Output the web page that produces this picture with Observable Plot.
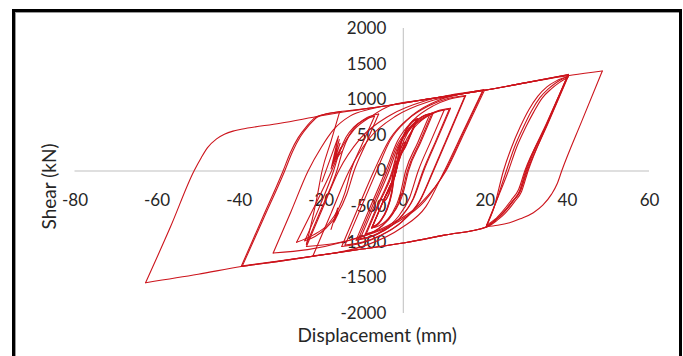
<!DOCTYPE html>
<html>
<head>
<meta charset="utf-8">
<script src="https://cdn.jsdelivr.net/npm/d3@7"></script>
<script src="https://cdn.jsdelivr.net/npm/@observablehq/plot@0.6"></script>
<style>
  html, body { margin: 0; padding: 0; background: #fff; }
  #wrap { position: relative; width: 683px; height: 356px; overflow: hidden; }
  #frame { position: absolute; left: 12px; top: 9px; width: 670px; height: 400px;
           box-sizing: border-box; border: 3px solid #000; pointer-events: none;
           box-shadow: inset 1px 1px 0 #9a9a9a; }
</style>
</head>
<body>
<div id="wrap"><div id="frame"></div></div>
<script>
// ---- axis ticks ----
const xTicks = [-80, -60, -40, -20, 0, 20, 40, 60];
const xTickLabels = ["-80", "-60", "-40", "-20", "0", "20", "40", "60"];
const yTicks = [2000, 1500, 1000, 500, 0, -500, -1000, -1500, -2000];
const yTickLabels = ["2000", "1500", "1000", "500", "0", "-500", "-1000", "-1500", "-2000"];
const xTitle = "Displacement (mm)";
const yTitle = "Shear (kN)";

// ---- hysteresis branches: [displacement (mm), shear (kN)] ----
const smallCycles = [
  [[-2,0],[-0.7,200],[0.5,400]],
  [[0.5,400],[-1.0,200],[-2.46,0],[-2.8,-170],[-3.3,-290],[-3.9,-365],[-4.3,-405],[-4.8,-420]],
  [[-4.8,-420],[-3.25,-210],[-1.69,0],[-1.35,165],[-0.9,280],[-0.3,355],[0.1,395],[0.6,410]],
  [[0.6,410],[-0.92,205],[-2.44,0],[-2.81,-172],[-3.3,-292],[-3.92,-374],[-4.41,-413],[-4.9,-430]],
  [[-4.9,-430],[-3.3,-215],[-1.71,0],[-0.97,288],[0,490],[1.24,626],[2.22,691],[3.2,720]],
  [[3.2,720],[0.53,360],[-2.13,0],[-2.94,-312],[-4,-530],[-5.35,-679],[-6.43,-749],[-7.5,-780]],
  [[-7.5,-780],[-4.6,-390],[-1.72,0],[-0.95,292],[0.07,496],[1.35,635],[2.38,701],[3.4,730]],
  [[3.4,730],[0.7,365],[-2.01,0],[-2.85,-316],[-3.97,-537],[-5.36,-687],[-6.48,-758],[-7.6,-790]],
  [[-7.6,-790],[-4.67,-395],[-1.75,0],[-0.96,294],[0.09,500],[1.4,639],[2.45,706],[3.5,735]],
  [[3.5,735],[0.78,368],[-1.94,0],[-2.8,-320],[-3.96,-544],[-5.4,-696],[-6.55,-768],[-7.7,-800]]
];
const cycles8 = [
  [[-7.7,-800],[-4.74,-400],[-1.77,0],[-0.53,320],[1.12,544],[3.19,696],[4.84,768],[6.5,800]],
  [[6.5,800],[3.54,400],[0.57,0],[-0.87,-352],[-2.78,-598],[-5.17,-766],[-7.09,-845],[-9,-880]],
  [[-9,-880],[-5.74,-440],[-2.48,0],[-1.06,324],[0.84,551],[3.21,705],[5.1,778],[7,810]],
  [[7,810],[4,405],[1,0],[-0.55,-356],[-2.6,-605],[-5.18,-774],[-7.24,-854],[-9.3,-890]],
  [[-9.3,-890],[-6,-445],[-2.71,0],[-1.21,326],[0.79,554],[3.29,709],[5.29,782],[7.3,815]],
  [[7.3,815],[4.28,408],[1.26,0],[-0.08,-320],[-1.88,-544],[-4.12,-696],[-5.91,-768],[-7.7,-800]]
];
const mediumCycles = [
  [[-7.7,-800],[-4.74,-400],[-1.77,0],[0,344],[2.35,585],[5.3,748],[7.65,826],[10,860]],
  [[10,860],[6.8,430],[3.63,0],[1.5,-380],[-1.3,-646],[-4.85,-827],[-7.67,-912],[-10.5,-950]],
  [[-10.5,-950],[-6.98,-475],[-3.46,0],[-1.26,346],[1.67,589],[5.34,753],[8.27,831],[11.2,866]],
  [[11.2,866],[8,433],[4.79,0],[2.42,-384],[-0.74,-653],[-4.68,-835],[-7.84,-922],[-11,-960]],
  [[-11,-960],[-7.44,-480],[-3.89,0],[-1.58,352],[1.5,598],[5.34,766],[8.42,845],[11.5,880]],
  [[11.5,880],[8.24,440],[4.98,0],[2.51,-388],[-0.79,-660],[-4.91,-844],[-8.2,-931],[-11.5,-970]],
  [[-11.5,-970],[-7.9,-485],[-4.31,0],[-1.41,420],[2.45,714],[7.28,914],[11.14,1008],[15,1050]],
  [[15,1050],[11.1,525],[7.22,0],[4.0,-416],[-0.28,-707],[-5.63,-905],[-9.9,-998],[-14.2,-1040]],
  [[-14.2,-1040],[-10.35,-520],[-6.5,0],[-3.25,424],[1.1,721],[6.52,922],[10.86,1018],[15.2,1060]],
  [[15.2,1060],[11.3,530],[7.35,0],[4,-424],[-0.47,-721],[-6.06,-922],[-10.5,-1018],[-15,-1060]]
];
const cycles20 = [
  [[-15,-1060],[-11.1,-530],[-7.15,0],[-3.17,459],[2.14,780],[8.78,998],[14.1,1080],[19.4,1135]],
  [[19.4,1135],[14.7,568],[10,0],[5.5,-500],[-0.5,-800],[-8.5,-1030],[-15.2,-1135],[-22,-1190]],
  [[-22,-1190],[-17.6,-595],[-13.2,0],[-8.3,456],[-1.7,775],[6.5,980],[13,1070],[19.6,1140]],
  [[19.6,1140],[14.9,570],[10.2,0],[5.2,-424],[-1.5,-720],[-10,-922],[-16.8,-1018],[-23.6,-1060]],
  [[-23.6,-1060],[-19.7,-530],[-15.75,0],[-10.4,460],[-3.3,780],[5.6,990],[12.7,1080],[19.8,1133]],
  [[19.8,1133],[15.1,566],[10.4,0],[4.1,-460],[-4.3,-782],[-14.9,-1000],[-23.3,-1104],[-31.7,-1150]]
];
const cycles40 = [
  [[-31.7,-1150],[-27.4,-575],[-23.2,0],[-20,330],[-17,580],[-13,770],[-8,870],[0,955],[10,1045],[19.8,1133],[30,1240],[40.2,1350]],
  [[40.2,1357],[35.1,680],[30,0],[28.5,-280],[26.7,-421],[24.5,-580],[22.5,-690],[20.2,-785],[10,-900],[0.4,-1007],[-10,-1095],[-20,-1180],[-30,-1265],[-39.5,-1340]],
  [[-39.5,-1340],[-34.4,-670],[-29.3,0],[-27.5,260],[-25.6,468],[-23.5,630],[-21.5,749],[-18.5,805],[-15.8,830],[-12,855],[-2.8,927],[4.7,997],[19.8,1133],[30,1240],[40.2,1355]],
  [[40.2,1355],[35.3,690],[30.4,0],[28.8,-290],[27,-440],[24.8,-595],[22.7,-700],[20.4,-785],[10,-900],[0.4,-1007],[-10,-1095],[-20,-1180],[-30,-1260],[-39.2,-1330]],
  [[-39.2,-1330],[-34,-660],[-28.9,0],[-27,270],[-25.1,480],[-23,640],[-21,755],[-18,810],[-15.5,832]]
];
const leftCycles = [
  [[-15.5,832],[-17.6,420],[-19.8,0],[-21.2,-420],[-22.5,-760],[-23.6,-1029]],
  [[-23.6,-1029],[-19.8,-510],[-16.2,0],[-14.8,280],[-13.2,500],[-11.2,650],[-8.8,750],[-6,800]],
  [[-6,800],[-9,400],[-12,0],[-13.8,-330],[-16,-600],[-18.8,-800],[-21.5,-920],[-24,-980]],
  [[-24,-980],[-20.4,-500],[-17,0],[-15.6,260],[-14,470],[-12,620],[-9.5,720],[-7,770]],
  [[-7,770],[-10,380],[-12.8,0],[-14.2,-300],[-15.8,-530],[-18.2,-740],[-22,-900],[-26,-1000]],
  [[-26,-1000],[-21.5,-480],[-17.5,0],[-15,330],[-12,580],[-8,760],[-2.8,927],[4.7,997],[19.8,1133],[30,1240],[40.2,1352]]
];
const cyclesLarge = [
  [[40.2,1352],[35,680],[29.8,0],[28.3,-285],[26.5,-430],[24.3,-585],[22.3,-695],[20.2,-785],[10,-900],[0.4,-1007],[-10,-1095],[-20,-1180],[-30,-1265],[-39.5,-1340],[-50,-1450],[-62.8,-1568]],
  [[-62.8,-1568],[-56.7,-780],[-51,0],[-49.2,190],[-47.7,327],[-45.5,450],[-43.6,515],[-41.5,560],[-39.5,585],[-30,670],[-20,775],[-14.6,828],[-2.8,927],[4.7,997],[19.8,1133],[30,1240],[41.2,1348],[48.5,1404]],
  [[48.5,1404],[43.5,700],[38.6,0],[37.5,-180],[36.1,-328],[34,-480],[31.7,-585],[28.5,-670],[25.9,-725],[23,-762],[20.2,-782]],
  [[20.2,-782],[22.2,-500],[25.1,0],[27,320],[29.2,608],[31.2,840],[33.3,1029],[35.5,1160],[37.5,1250],[40.2,1330]],
  [[40.2,1330],[35.2,660],[30.2,0],[28.6,-270],[26.8,-420],[24.6,-575],[22.5,-690],[20.3,-770]],
  [[20.3,-770],[22.0,-530],[24.4,0],[26.3,320],[28.5,620],[30.6,860],[32.8,1050],[35,1180],[37.3,1265],[40.1,1325]],
  [[40.1,1325],[35,650],[29.6,0],[28.1,-260],[26.3,-410],[24.2,-565],[22.3,-680],[20.3,-760]],
  [[20.3,-760],[22.5,-450],[25.6,0],[27.6,330],[29.8,610],[31.8,830],[33.8,1020],[36,1150],[38,1240],[40.2,1320]]
];
const partialCycles = [
  [[-19.8,-150],[-15.8,490],[-17.6,30],[-15.6,440],[-17.3,70],[-15.4,390],[-17,110],[-15.2,330],[-16.7,150],[-15,270],[-16.3,180]],
  [[-17.6,-820],[-16,-520],[-16.9,-720],[-15.9,-560],[-16.7,-700],[-15.8,-590]]
];

// ---- build table ----
const groups = [smallCycles, cycles8, mediumCycles, cycles20, cycles40, leftCycles, cyclesLarge];
const rows = [];
let bid = 0;
for (const g of groups) for (const br of g) { for (const [d, v] of br) rows.push({d, v, b: bid}); bid++; }
const fanRows = [];
partialCycles.forEach((br, i) => br.forEach(([d, v]) => fanRows.push({d, v, b: i})));

const font = "Lato, 'Open Sans', sans-serif";
const ink = "#262626";
const red = "#cc141c";

const chart = Plot.plot({
  width: 683,
  height: 356,
  marginLeft: 74.5,
  marginRight: 34,
  marginTop: 28,
  marginBottom: 43,
  x: {domain: [-80, 60], axis: null},
  y: {domain: [-2000, 2000], axis: null},
  style: {fontFamily: font, background: "transparent"},
  marks: [
    Plot.ruleY([0], {x1: -80, x2: 60, stroke: "#bfbfbf", strokeWidth: 1}),
    Plot.ruleX([0], {y1: -2000, y2: 2000, stroke: "#bfbfbf", strokeWidth: 1}),
    Plot.text(xTicks, {x: d => d, y: 0, text: (d, i) => xTickLabels[i], dy: 30, fontSize: 17, fill: ink}),
    Plot.text(yTicks, {x: 0, y: d => d, text: (d, i) => yTickLabels[i], dx: -17, textAnchor: "end", fontSize: 17, fill: ink}),
    Plot.line(rows, {x: "d", y: "v", z: "b", curve: "monotone-x", stroke: red, strokeWidth: 1.1}),
    Plot.line(fanRows, {x: "d", y: "v", z: "b", curve: "linear", stroke: red, strokeWidth: 1.1}),
    Plot.text([xTitle], {frameAnchor: "bottom", dx: 15, dy: 28, fontSize: 19, fill: ink, textAnchor: "middle"}),
    Plot.text([yTitle], {frameAnchor: "left", rotate: -90, dx: -25.5, dy: 15.5, fontSize: 19, fill: ink, textAnchor: "middle"})
  ]
});
document.getElementById("wrap").prepend(chart);
</script>
</body>
</html>
